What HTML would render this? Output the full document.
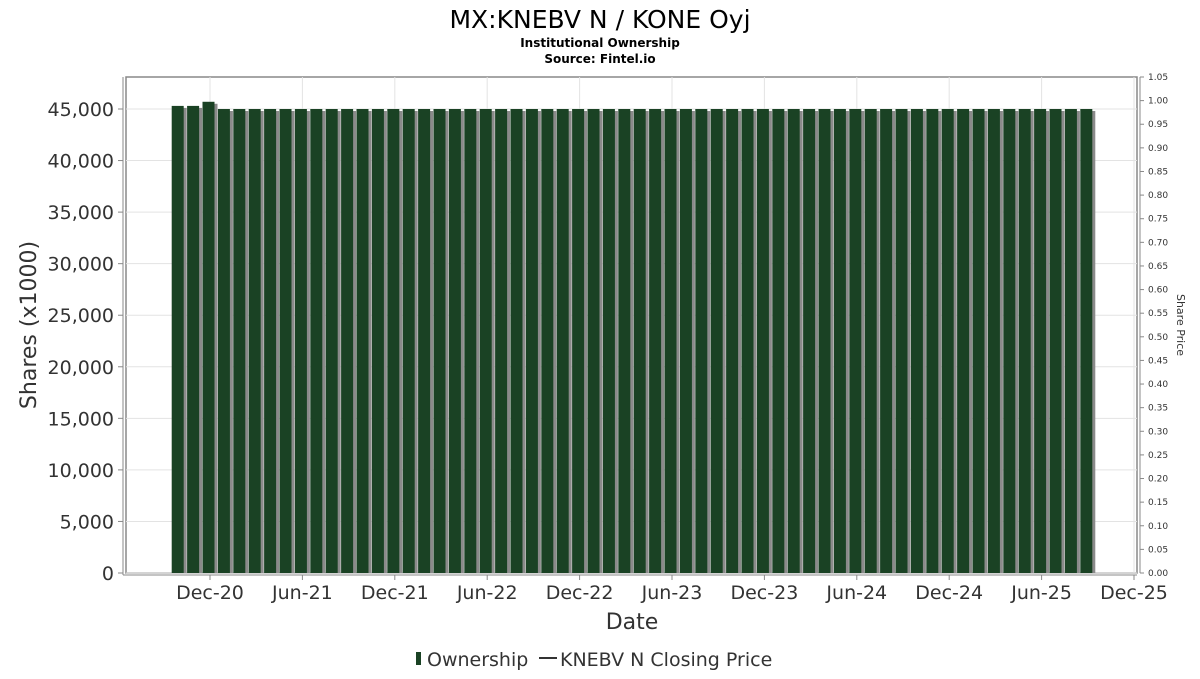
<!DOCTYPE html>
<html><head><meta charset="utf-8"><style>
body{margin:0;background:#fff;font-family:"DejaVu Sans","Liberation Sans",sans-serif;}
svg text{font-family:"DejaVu Sans","Liberation Sans",sans-serif;fill:#333;}
</style></head><body>
<svg id="chart" width="1200" height="675" xmlns="http://www.w3.org/2000/svg">
<text x="600" y="28" font-size="25" text-anchor="middle" style="fill:#000">MX:KNEBV N / KONE Oyj</text>
<text x="600" y="47" font-size="12" font-weight="bold" text-anchor="middle" style="fill:#000">Institutional Ownership</text>
<text x="600" y="63" font-size="12" font-weight="bold" text-anchor="middle" style="fill:#000">Source: Fintel.io</text>
<rect x="126" y="77" width="1011" height="496" fill="none" stroke="#888" stroke-width="1.5"/>
<g id="grid"></g>
<g id="bars"></g>
<g id="axes"></g>
<text transform="translate(36,325) rotate(-90)" font-size="22" text-anchor="middle">Shares (x1000)</text>
<text transform="translate(1177,325) rotate(90)" font-size="11" text-anchor="middle">Share Price</text>
<text x="632" y="629" font-size="22" text-anchor="middle">Date</text>
<g>
<rect x="416" y="652" width="5" height="13" fill="#1a4224"/>
<text x="427" y="666" font-size="19">Ownership</text>
<line x1="539" y1="658" x2="557" y2="658" stroke="#333" stroke-width="2"/>
<text x="560" y="666" font-size="19">KNEBV N Closing Price</text>
</g>
</svg>
<script>
const months = ["Oct-20","Nov-20","Dec-20","Jan-21","Feb-21","Mar-21","Apr-21","May-21","Jun-21","Jul-21","Aug-21","Sep-21","Oct-21","Nov-21","Dec-21","Jan-22","Feb-22","Mar-22","Apr-22","May-22","Jun-22","Jul-22","Aug-22","Sep-22","Oct-22","Nov-22","Dec-22","Jan-23","Feb-23","Mar-23","Apr-23","May-23","Jun-23","Jul-23","Aug-23","Sep-23","Oct-23","Nov-23","Dec-23","Jan-24","Feb-24","Mar-24","Apr-24","May-24","Jun-24","Jul-24","Aug-24","Sep-24","Oct-24","Nov-24","Dec-24","Jan-25","Feb-25","Mar-25","Apr-25","May-25","Jun-25","Jul-25","Aug-25","Sep-25"];
const ownership = [45300,45300,45700,45000,45000,45000,45000,45000,45000,45000,45000,45000,45000,45000,45000,45000,45000,45000,45000,45000,45000,45000,45000,45000,45000,45000,45000,45000,45000,45000,45000,45000,45000,45000,45000,45000,45000,45000,45000,45000,45000,45000,45000,45000,45000,45000,45000,45000,45000,45000,45000,45000,45000,45000,45000,45000,45000,45000,45000,45000];
const yTicks = [0,5000,10000,15000,20000,25000,30000,35000,40000,45000];
const y2Ticks = [0,0.05,0.1,0.15,0.2,0.25,0.3,0.35,0.4,0.45,0.5,0.55,0.6,0.65,0.7,0.75,0.8,0.85,0.9,0.95,1.0,1.05];
const xTickLabels = ["Dec-20","Jun-21","Dec-21","Jun-22","Dec-22","Jun-23","Dec-23","Jun-24","Dec-24","Jun-25","Dec-25"];
const NS="http://www.w3.org/2000/svg";
const y = v => 573 - v*(464/45000);
const y2 = v => 573 - v*(496/1.05);
const xm = i => 210 + (i-2)*15.4; // month index from Oct-20
function mk(tag, attrs, parent){const e=document.createElementNS(NS,tag);for(const k in attrs)e.setAttribute(k,attrs[k]);parent.appendChild(e);return e;}
const grid=document.getElementById('grid'), bars=document.getElementById('bars'), axes=document.getElementById('axes');
mk('line',{x1:123,y1:77,x2:123,y2:575,stroke:'#888'},axes);
mk('line',{x1:123,y1:575,x2:1137,y2:575,stroke:'#888'},axes);
mk('line',{x1:1140,y1:77,x2:1140,y2:573,stroke:'#888'},axes);
yTicks.forEach(v=>{
  const g=mk('line',{x1:126,y1:y(v),x2:1137,y2:y(v),stroke:'#e3e3e3'},grid);
  
  
  mk('line',{x1:118,y1:y(v),x2:123,y2:y(v),stroke:'#888'},axes);
  const t=mk('text',{x:114,y:y(v)+7,'font-size':19,'text-anchor':'end'},axes);
  
  
  t.textContent=v.toLocaleString('en-US');
});
y2Ticks.forEach(v=>{
  mk('line',{x1:1140,y1:y2(v),x2:1144,y2:y2(v),stroke:'#888'},axes);
  const t=mk('text',{x:1148,y:y2(v)+3,'font-size':9},axes);
  
  
  t.textContent=v.toFixed(2);
});
xTickLabels.forEach((l,k)=>{
  const x=xm(2+k*6);
  const g=mk('line',{x1:x,y1:77,x2:x,y2:573,stroke:'#e3e3e3'},grid);
  
  
  mk('line',{x1:x,y1:575,x2:x,y2:580,stroke:'#888'},axes);
  const t=mk('text',{x:x,y:599,'font-size':19,'text-anchor':'middle'},axes);
  
  
  t.textContent=l;
});
ownership.forEach((v,i)=>{
  const cx=xm(i)-1;
  const s=mk('rect',{x:cx-5.5+3,y:y(v)+2,width:11,height:573-y(v)-2,fill:'#8a8a8a'},bars);
  
  
  const b=mk('rect',{x:cx-6.5,y:y(v),width:12,height:573-y(v),fill:'#1a4224'},bars);
  
  
});
</script>
</body></html>
